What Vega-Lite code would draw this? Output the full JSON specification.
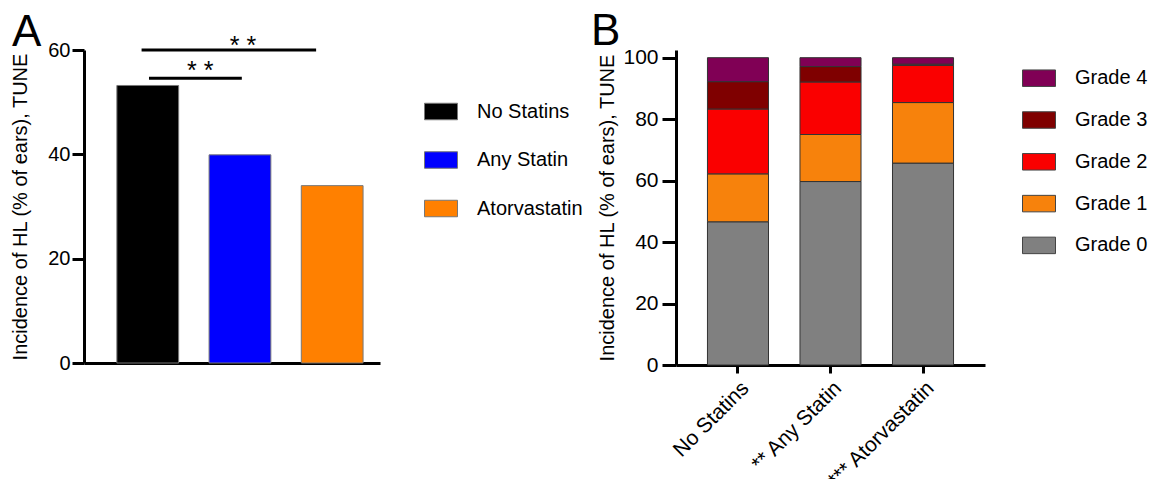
{
  "$schema": "https://vega.github.io/schema/vega-lite/v6.json",
  "background": "white",
  "padding": {"left": 10, "top": 9, "right": 5, "bottom": 5},
  "config": {
    "font": "Liberation Sans",
    "view": {"stroke": null},
    "axis": {
      "domainColor": "black", "domainWidth": 3, "tickColor": "black", "tickWidth": 3,
      "labelColor": "black", "titleColor": "black", "labelFont": "Liberation Sans",
      "titleFont": "Liberation Sans", "titleFontWeight": "normal", "grid": false
    },
    "legend": {"labelFont": "Liberation Sans", "labelColor": "black", "padding": 0},
    "title": {"font": "Liberation Sans", "fontSize": 44, "fontWeight": "normal", "color": "black", "anchor": "start", "frame": "group", "baseline": "alphabetic"}
  },
  "bounds": "flush",
  "spacing": 296,
  "resolve": {"scale": {"color": "independent", "x": "independent", "y": "independent"}},
  "hconcat": [
    {
      "title": {"text": "A", "dx": -72, "offset": -21},
      "width": 296,
      "height": 313,
      "layer": [
        {
          "data": {"values": [
            {"group": "No Statins", "incidence": 53.2},
            {"group": "Any Statin", "incidence": 39.9},
            {"group": "Atorvastatin", "incidence": 34.0}
          ]},
          "mark": {"type": "bar", "stroke": "#777", "strokeWidth": 1},
          "encoding": {
            "x": {"field": "group", "type": "nominal", "sort": null,
              "scale": {"domain": ["No Statins", "Any Statin", "Atorvastatin"], "paddingInner": 0.33, "paddingOuter": 0.27, "align": 0.66},
              "axis": {"title": null, "labels": false, "ticks": false}},
            "y": {"field": "incidence", "type": "quantitative",
              "scale": {"domain": [0, 60], "nice": false},
              "axis": {"title": "Incidence of HL (% of ears), TUNE", "titleFontSize": 20, "values": [0, 20, 40, 60], "labelFontSize": 20, "tickSize": 12, "labelPadding": 2, "titlePadding": 17}},
            "color": {"field": "group", "type": "nominal",
              "scale": {"domain": ["No Statins", "Any Statin", "Atorvastatin"], "range": ["#000000", "#0000FF", "#FF8000"]},
              "legend": {"title": null, "orient": "none", "legendX": 340, "legendY": 44.5,
                "symbolType": "M-1,-0.5H1V0.5H-1Z", "symbolSize": 1089, "symbolStrokeColor": "#777", "symbolStrokeWidth": 1, "symbolOpacity": 1,
                "labelFontSize": 20, "labelOffset": 19, "rowPadding": 20.5}}
          }
        },
        {
          "data": {"values": [{"from": "No Statins", "to": "Atorvastatin", "level": 60}]},
          "mark": {"type": "rule", "strokeWidth": 3, "color": "black"},
          "encoding": {
            "x": {"field": "from", "type": "nominal", "bandPosition": 0.4},
            "x2": {"field": "to", "bandPosition": 0.24},
            "y": {"field": "level", "type": "quantitative"}
          }
        },
        {
          "data": {"values": [{"from": "No Statins", "to": "Any Statin", "level": 54.6}]},
          "mark": {"type": "rule", "strokeWidth": 3, "color": "black"},
          "encoding": {
            "x": {"field": "from", "type": "nominal", "bandPosition": 0.52},
            "x2": {"field": "to", "bandPosition": 0.53},
            "y": {"field": "level", "type": "quantitative"}
          }
        },
        {
          "data": {"values": [{"at": "Any Statin", "level": 59.3, "label": "* *"}]},
          "mark": {"type": "text", "fontSize": 25, "baseline": "alphabetic", "align": "center", "color": "black"},
          "encoding": {
            "x": {"field": "at", "type": "nominal", "bandPosition": 0.55},
            "y": {"field": "level", "type": "quantitative"},
            "text": {"field": "label"}
          }
        },
        {
          "data": {"values": [{"at": "No Statins", "level": 54.4, "label": "* *"}]},
          "mark": {"type": "text", "fontSize": 25, "baseline": "alphabetic", "align": "center", "color": "black"},
          "encoding": {
            "x": {"field": "at", "type": "nominal", "bandPosition": 1.35},
            "y": {"field": "level", "type": "quantitative"},
            "text": {"field": "label"}
          }
        }
      ]
    },
    {
      "title": {"text": "B", "dx": -85, "offset": -7},
      "width": 309,
      "height": 315,
      "data": {"values": [
        {"group": "No Statins", "grade": "Grade 0", "pct": 46.6},
        {"group": "No Statins", "grade": "Grade 1", "pct": 15.6},
        {"group": "No Statins", "grade": "Grade 2", "pct": 21.1},
        {"group": "No Statins", "grade": "Grade 3", "pct": 8.9},
        {"group": "No Statins", "grade": "Grade 4", "pct": 7.8},
        {"group": "** Any Statin", "grade": "Grade 0", "pct": 59.7},
        {"group": "** Any Statin", "grade": "Grade 1", "pct": 15.3},
        {"group": "** Any Statin", "grade": "Grade 2", "pct": 17.1},
        {"group": "** Any Statin", "grade": "Grade 3", "pct": 5.0},
        {"group": "** Any Statin", "grade": "Grade 4", "pct": 2.9},
        {"group": "*** Atorvastatin", "grade": "Grade 0", "pct": 65.7},
        {"group": "*** Atorvastatin", "grade": "Grade 1", "pct": 19.7},
        {"group": "*** Atorvastatin", "grade": "Grade 2", "pct": 12.1},
        {"group": "*** Atorvastatin", "grade": "Grade 3", "pct": 0.4},
        {"group": "*** Atorvastatin", "grade": "Grade 4", "pct": 2.1}
      ]},
      "mark": {"type": "bar", "stroke": "#333", "strokeWidth": 1},
      "encoding": {
        "x": {"field": "group", "type": "nominal", "sort": null,
          "scale": {"domain": ["No Statins", "** Any Statin", "*** Atorvastatin"], "paddingInner": 0.34, "paddingOuter": 0.34},
          "axis": {"title": null, "labelAngle": -45, "labelFontSize": 21, "tickSize": 8, "labelPadding": 4}},
        "y": {"field": "pct", "type": "quantitative", "stack": "zero",
          "scale": {"domain": [0, 102.5], "nice": false},
          "axis": {"title": "Incidence of HL (% of ears), TUNE", "titleFontSize": 20, "values": [0, 20, 40, 60, 80, 100], "labelFontSize": 21, "tickSize": 14, "labelPadding": 4, "titlePadding": 5}},
        "color": {"field": "grade", "type": "nominal",
          "scale": {"domain": ["Grade 4", "Grade 3", "Grade 2", "Grade 1", "Grade 0"], "range": ["#800055", "#7F0000", "#FA0000", "#F7820C", "#808080"]},
          "legend": {"title": null, "orient": "none", "legendX": 346, "legendY": 11.2,
            "symbolType": "M-1,-0.5H1V0.5H-1Z", "symbolSize": 1089, "symbolStrokeColor": "#444", "symbolStrokeWidth": 1, "symbolOpacity": 1,
            "labelFontSize": 20, "labelOffset": 19, "rowPadding": 13.8}},
        "order": {"field": "grade", "type": "ordinal", "sort": "ascending"}
      }
    }
  ]
}
